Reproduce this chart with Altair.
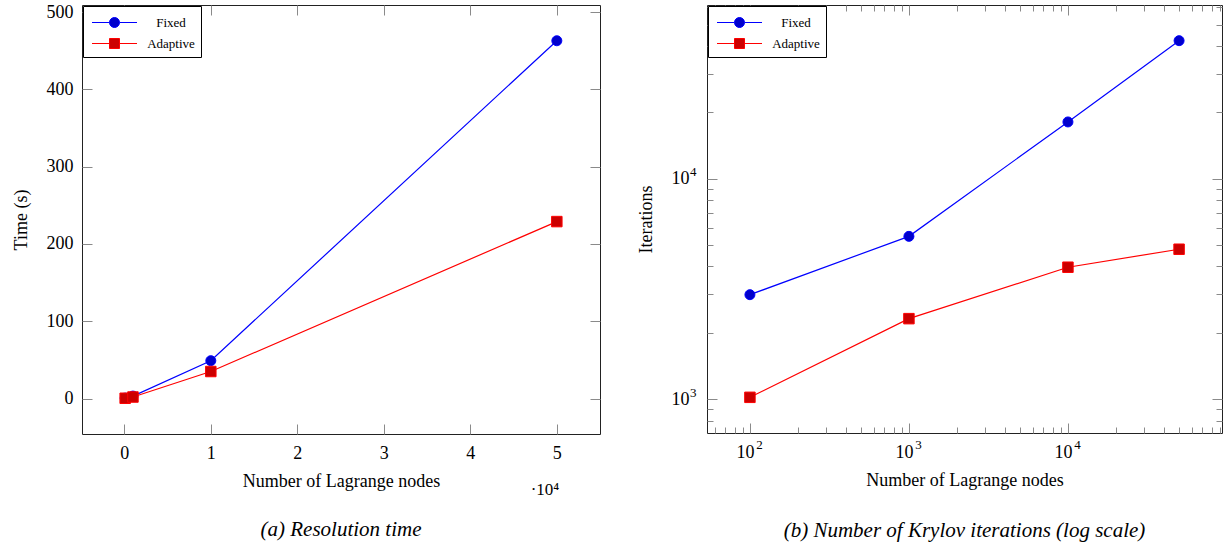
import math
import altair as alt
import pandas as pd

# ---- data -------------------------------------------------------------
nodes = [100, 1000, 10000, 50000]
series_names = ["Fixed", "Adaptive"]

time_fixed = [0.6, 3.2, 49, 463]
time_adaptive = [0.4, 2.0, 35, 229]

iter_fixed = [2980, 5480, 18100, 42300]
iter_adaptive = [1020, 2320, 3970, 4790]

lin_x_ticks = [0, 10000, 20000, 30000, 40000, 50000]
lin_y_ticks = [0, 100, 200, 300, 400, 500]
log_x_major = [100, 1000, 10000]
log_y_major = [1000, 10000]
log_x_minor = [60, 70, 80, 90,
               200, 300, 400, 500, 600, 700, 800, 900,
               2000, 3000, 4000, 5000, 6000, 7000, 8000, 9000,
               20000, 30000, 40000, 50000, 60000, 70000, 80000, 90000]
log_y_minor = [800, 900,
               2000, 3000, 4000, 5000, 6000, 7000, 8000, 9000,
               20000, 30000, 40000, 50000, 60000]

# ---- style ------------------------------------------------------------
FONT = "Liberation Serif"
TICK = "#8a8a8a"
LINE = {"Fixed": "#0000FF", "Adaptive": "#FF0000"}
FILL = {"Fixed": "#0000CC", "Adaptive": "#CC0000"}
MARK_SHAPE = {"Fixed": "circle", "Adaptive": "square"}
# legend glyph: a short line with the marker in its middle
LEGEND_SHAPE = {
    "Fixed": "M-2.25,0H-0.5M0.5,0H2.25M-0.5,0A0.5,0.5,0,1,1,0.5,0A0.5,0.5,0,1,1,-0.5,0Z",
    "Adaptive": "M-2.25,0H-0.5M0.5,0H2.25M-0.5,-0.5H0.5V0.5H-0.5Z",
}
# decade labels: base "10" and a raised exponent drawn by a second axis
EXPONENT = "format(round(log(datum.value) / LN10), 'd')"


def long_frame(a, b):
    rows = []
    for name, vals in zip(series_names, (a, b)):
        for n, v in zip(nodes, vals):
            rows.append({"nodes": n, "value": v, "series": name})
    return pd.DataFrame(rows)


def enlarge(lo, hi, log=False):
    if log:
        a, b = math.log10(lo), math.log10(hi)
        d = 0.1 * (b - a)
        return [10 ** (a - d), 10 ** (b + d)]
    d = 0.1 * (hi - lo)
    return [lo - d, hi + d]


def tick_layer(df, xs, ys, xvals, yvals, length, xorient, yorient):
    common = dict(labels=False, domain=False, grid=False, ticks=True,
                  tickSize=length, offset=-length, tickColor=TICK, tickWidth=1)
    return alt.Chart(df).transform_filter("false").mark_point().encode(
        x=alt.X("nodes:Q", scale=xs, title=None,
                axis=alt.Axis(orient=xorient, values=xvals, **common)),
        y=alt.Y("value:Q", scale=ys, title=None,
                axis=alt.Axis(orient=yorient, values=yvals, **common)),
    )


def exponent_layer(df, xs, ys, xvals, yvals):
    common = dict(labelExpr=EXPONENT, labelFontSize=13, ticks=False, tickSize=0,
                  domain=False, grid=False)
    return alt.Chart(df).transform_filter("false").mark_point().encode(
        x=alt.X("nodes:Q", scale=xs, title=None,
                axis=alt.Axis(orient="bottom", values=xvals, labelPadding=5,
                              labelOffset=9, **common)),
        y=alt.Y("value:Q", scale=ys, title=None,
                axis=alt.Axis(orient="left", values=yvals, labelPadding=11,
                              labelOffset=-7, **common)),
    )


def legend_layer(df):
    leg = alt.Legend(title=None, orient="top-left", offset=1, padding=6,
                     strokeColor="black", fillColor="white", cornerRadius=0,
                     labelFont=FONT, labelFontSize=13, labelColor="black",
                     labelAlign="center", labelOffset=46,
                     symbolSize=400, symbolOffset=15, symbolStrokeWidth=1,
                     symbolOpacity=1, rowPadding=3)
    return alt.Chart(df).transform_filter("false").mark_point(
        filled=True, size=400, strokeWidth=1
    ).encode(
        fill=alt.Fill("series:N", legend=leg, scale=alt.Scale(
            domain=series_names, range=[FILL[s] for s in series_names])),
        stroke=alt.Stroke("series:N", legend=leg, scale=alt.Scale(
            domain=series_names, range=[LINE[s] for s in series_names])),
        shape=alt.Shape("series:N", legend=leg, scale=alt.Scale(
            domain=series_names, range=[LEGEND_SHAPE[s] for s in series_names])),
    )


def series_layers(df, xs, ys, x_axis, y_axis):
    layers = []
    for i, name in enumerate(series_names):
        sub = alt.Chart(df).transform_filter(alt.datum.series == name)
        layers.append(sub.mark_line(color=LINE[name], strokeWidth=1.2).encode(
            x=alt.X("nodes:Q", scale=xs, axis=x_axis if i == 0 else None),
            y=alt.Y("value:Q", scale=ys, axis=y_axis if i == 0 else None),
        ))
        layers.append(sub.mark_point(
            shape=MARK_SHAPE[name], filled=True, fill=FILL[name], stroke=LINE[name],
            strokeWidth=1, opacity=1, size=100 if name == "Fixed" else 110,
        ).encode(
            x=alt.X("nodes:Q", scale=xs, axis=None),
            y=alt.Y("value:Q", scale=ys, axis=None),
        ))
    return layers


def caption(text, offset):
    return alt.TitleParams(text, orient="bottom", anchor="middle", frame="group",
                           font=FONT, fontSize=21, fontStyle="italic",
                           fontWeight="normal", color="black", offset=offset)


# ---- (a) resolution time, linear axes ---------------------------------
df_a = long_frame(time_fixed, time_adaptive)
xs_a = alt.Scale(domain=enlarge(min(nodes), max(nodes)), nice=False, zero=False)
ys_a = alt.Scale(domain=enlarge(min(time_adaptive), max(time_fixed)), nice=False, zero=False)

xa_axis = alt.Axis(orient="bottom", values=lin_x_ticks,
                   labelExpr="format(datum.value / 10000, 'd')",
                   ticks=False, tickSize=0, domain=False, grid=False,
                   labelPadding=10, title="Number of Lagrange nodes", titlePadding=10)
ya_axis = alt.Axis(orient="left", values=lin_y_ticks, ticks=False, tickSize=0,
                   domain=False, grid=False, labelPadding=9,
                   title="Time (s)", titlePadding=16)

scale_note = alt.Chart(pd.DataFrame({"t": ["·10⁴"]})).mark_text(
    font=FONT, fontSize=17, color="black", baseline="middle", align="center"
).encode(x=alt.value(463), y=alt.value(485), text="t:N")

panel_a = alt.layer(
    *series_layers(df_a, xs_a, ys_a, xa_axis, ya_axis),
    tick_layer(df_a, xs_a, ys_a, lin_x_ticks, lin_y_ticks, 10, "bottom", "left"),
    tick_layer(df_a, xs_a, ys_a, lin_x_ticks, lin_y_ticks, 10, "top", "right"),
    legend_layer(df_a),
    scale_note,
).resolve_axis(x="independent", y="independent").properties(
    width=518, height=429, title=caption("(a) Resolution time", 21),
)

# ---- (b) Krylov iterations, log axes ----------------------------------
df_b = long_frame(iter_fixed, iter_adaptive)
xs_b = alt.Scale(type="log", domain=enlarge(min(nodes), max(nodes), log=True), nice=False)
ys_b = alt.Scale(type="log", domain=enlarge(min(iter_adaptive), max(iter_fixed), log=True), nice=False)

xb_axis = alt.Axis(orient="bottom", values=log_x_major, labelExpr="'10'",
                   ticks=False, tickSize=0, domain=False, grid=False,
                   labelPadding=10, labelOffset=-5,
                   title="Number of Lagrange nodes", titlePadding=10)
yb_axis = alt.Axis(orient="left", values=log_y_major, labelExpr="'10'",
                   ticks=False, tickSize=0, domain=False, grid=False,
                   labelPadding=18, title="Iterations", titlePadding=16)

panel_b = alt.layer(
    *series_layers(df_b, xs_b, ys_b, xb_axis, yb_axis),
    exponent_layer(df_b, xs_b, ys_b, log_x_major, log_y_major),
    tick_layer(df_b, xs_b, ys_b, log_x_major, log_y_major, 10, "bottom", "left"),
    tick_layer(df_b, xs_b, ys_b, log_x_major, log_y_major, 10, "top", "right"),
    tick_layer(df_b, xs_b, ys_b, log_x_minor, log_y_minor, 6, "bottom", "left"),
    tick_layer(df_b, xs_b, ys_b, log_x_minor, log_y_minor, 6, "top", "right"),
    legend_layer(df_b),
).resolve_axis(x="independent", y="independent").properties(
    width=515, height=428,
    title=caption("(b) Number of Krylov iterations (log scale)", 31),
)

chart = alt.hconcat(panel_a, panel_b, spacing=107, bounds="flush").resolve_scale(
    x="independent", y="independent",
    fill="independent", stroke="independent", shape="independent",
).resolve_legend(
    fill="independent", stroke="independent", shape="independent",
).configure(
    font=FONT,
    padding={"left": 11, "top": 2, "right": 2, "bottom": 2},
).configure_view(
    stroke="#222222", strokeWidth=1,
).configure_axis(
    labelFont=FONT, titleFont=FONT, labelFontSize=18, titleFontSize=18,
    labelColor="black", titleColor="black", titleFontWeight="normal",
)

chart.save("out.html", embed_options={"renderer": "svg", "actions": False})
